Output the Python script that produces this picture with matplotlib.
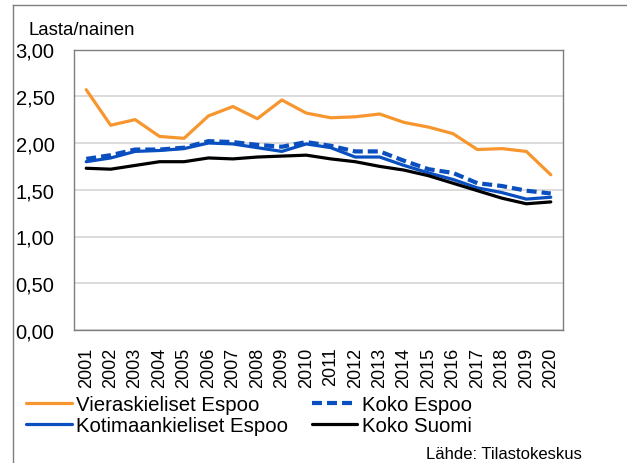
import matplotlib
matplotlib.use('Agg')
import matplotlib.pyplot as plt
from matplotlib.lines import Line2D
from matplotlib.ticker import FuncFormatter

plt.rcParams['font.family'] = ['Liberation Sans', 'DejaVu Sans']

YEARS = [str(y) for y in range(2001, 2021)]

VIERASKIELISET = [2.57, 2.19, 2.25, 2.07, 2.05, 2.29, 2.39, 2.26, 2.46, 2.32,
                  2.27, 2.28, 2.31, 2.22, 2.17, 2.10, 1.93, 1.94, 1.91, 1.66]
KOTIMAANKIELISET = [1.80, 1.84, 1.91, 1.92, 1.94, 2.00, 1.99, 1.95, 1.91, 1.99,
                    1.95, 1.85, 1.85, 1.76, 1.68, 1.61, 1.52, 1.47, 1.40, 1.42]
KOKO_ESPOO = [1.83, 1.87, 1.93, 1.93, 1.95, 2.02, 2.01, 1.98, 1.96, 2.01,
              1.97, 1.91, 1.91, 1.81, 1.72, 1.68, 1.57, 1.54, 1.49, 1.46]
KOKO_SUOMI = [1.73, 1.72, 1.76, 1.80, 1.80, 1.84, 1.83, 1.85, 1.86, 1.87,
              1.83, 1.80, 1.75, 1.71, 1.65, 1.57, 1.49, 1.41, 1.35, 1.37]

ORANGE = '#F7962E'
BLUE = '#0A4FBF'

W, H = 627, 464
fig = plt.figure(figsize=(W / 100, H / 100), dpi=100)
ax = fig.add_axes([74 / W, 1 - 331 / H, (563 - 74) / W, (331 - 50.5) / H])

x = range(len(YEARS))
l1, = ax.plot(x, VIERASKIELISET, color=ORANGE, lw=2.3, solid_capstyle='round')
l2, = ax.plot(x, KOTIMAANKIELISET, color=BLUE, lw=2.3, solid_capstyle='round')
l3, = ax.plot(x, KOKO_ESPOO, color=BLUE, lw=3.0, ls=(0, (2.4, 1.2)))
l4, = ax.plot(x, KOKO_SUOMI, color='black', lw=2.3, solid_capstyle='round')

ax.set_xlim(-0.5, len(YEARS) - 0.5)
ax.set_ylim(0, 3)
ax.set_yticks([0, 0.5, 1, 1.5, 2, 2.5, 3])
ax.yaxis.set_major_formatter(FuncFormatter(lambda v, p: f'{v:.2f}'.replace('.', ',')))
ax.set_xticks(list(x))
ax.set_xticklabels(YEARS, rotation=90)
ax.tick_params(axis='both', length=0)
ax.tick_params(axis='y', pad=14, labelsize=14.5)
ax.tick_params(axis='x', pad=12, labelsize=13)
ax.grid(axis='y', color='#D9D9D9', lw=1.3)
ax.set_axisbelow(True)
for s in ax.spines.values():
    s.set_color('#7F7F7F')
    s.set_linewidth(1.0)

fig.text(28 / W, 1 - 35 / H, 'Lasta/nainen', fontsize=13.4, va='baseline', ha='left')

fig.legend([l1, l2, l3, l4],
           ['Vieraskieliset Espoo', 'Kotimaankieliset Espoo', 'Koko Espoo', 'Koko Suomi'],
           ncol=2, loc='upper left', bbox_to_anchor=(26 / W, 1 - 396 / H),
           frameon=False, fontsize=14.7, handlelength=2.25, handletextpad=0.2,
           columnspacing=1.15, labelspacing=0.12, borderpad=0, borderaxespad=0)

fig.text(426 / W, 1 - 455 / H, 'Lähde: Tilastokeskus', fontsize=12, va='center', ha='left')

# chart area frame (only left and top edges fall inside the image)
fig.add_artist(Line2D([13 / W, 13 / W], [0, 1 - 6 / H], transform=fig.transFigure,
                      color='#7F7F7F', lw=1.0))
fig.add_artist(Line2D([13 / W, 1], [1 - 6 / H, 1 - 6 / H], transform=fig.transFigure,
                      color='#7F7F7F', lw=1.0))

fig.savefig('out.png', dpi=100)
